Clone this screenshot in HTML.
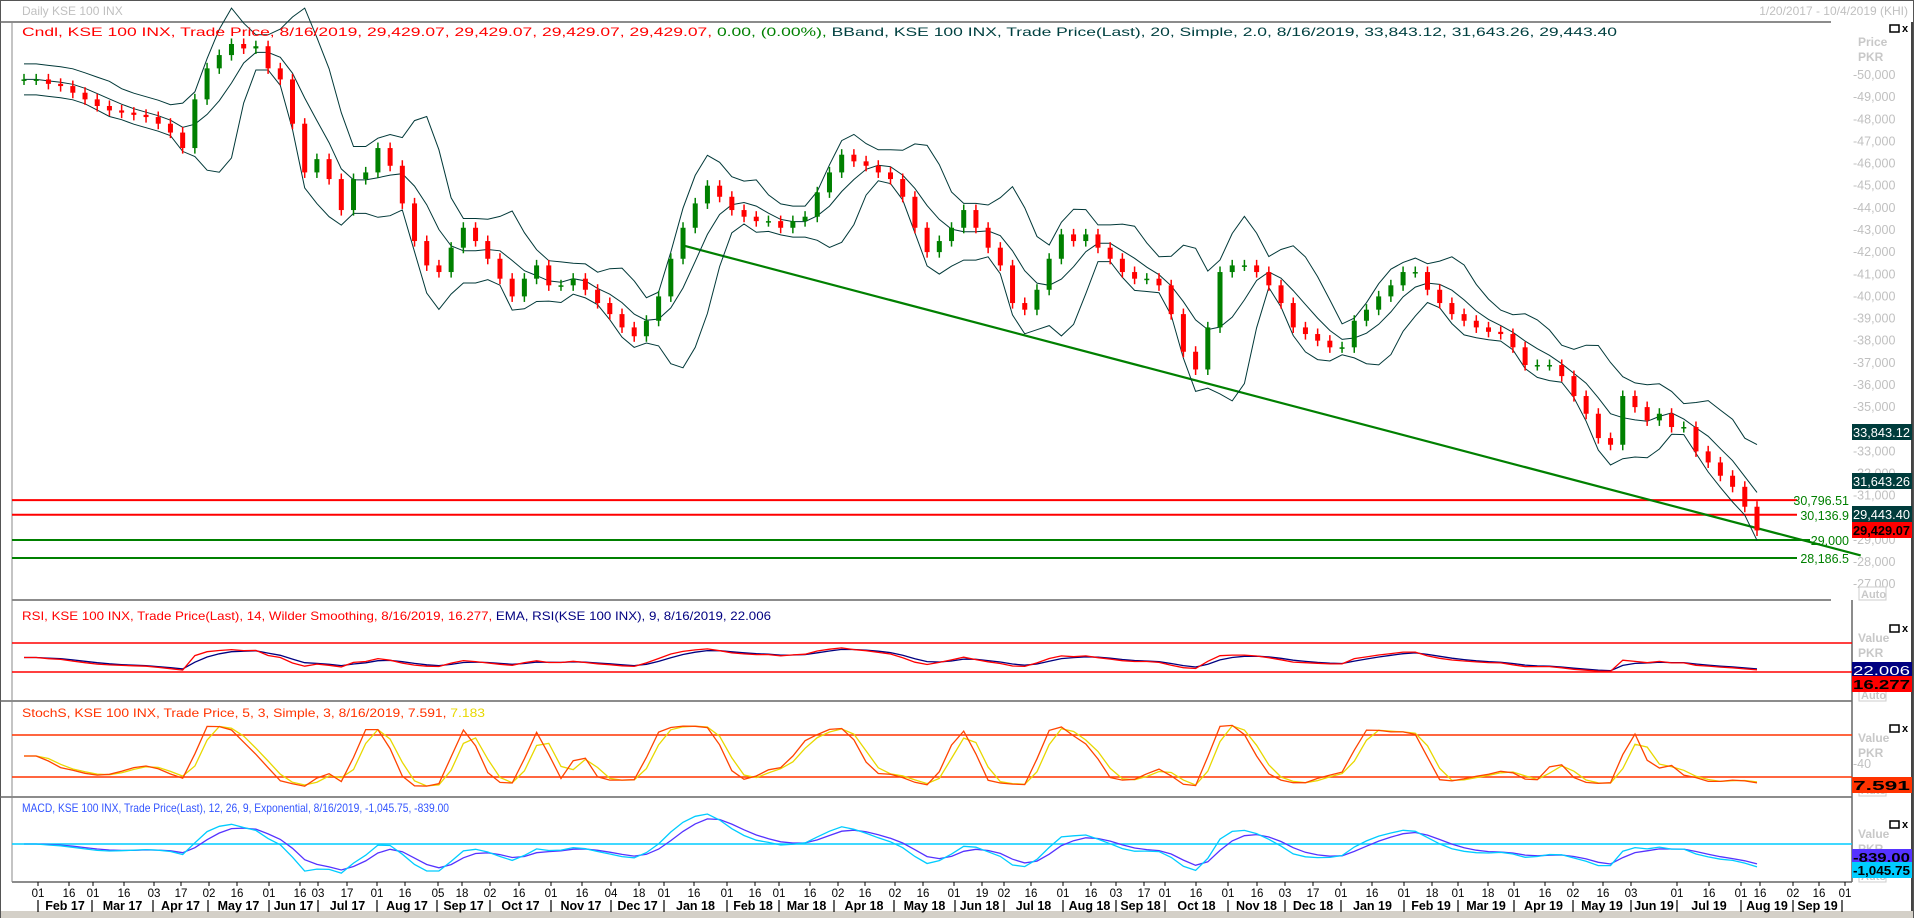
<!DOCTYPE html>
<html><head><meta charset="utf-8"><style>
html,body{margin:0;padding:0;background:#fff;}
svg{display:block;font-family:"Liberation Sans",sans-serif;}
</style></head><body>
<svg id="c" width="1916" height="919" viewBox="0 0 1916 919">
<rect x="0" y="0" width="1916" height="919" fill="#fff"/>
<rect x="0.5" y="0.5" width="1913" height="917" fill="none" stroke="#555"/>
<rect x="1" y="911" width="1912" height="7" fill="#d4d0c8"/>
<text x="22" y="15" font-size="12" fill="#c0c0c0">Daily KSE 100 INX</text>
<text x="1908" y="15" font-size="12" fill="#c0c0c0" text-anchor="end">1/20/2017 - 10/4/2019 (KHI)</text>
<line x1="0" y1="22" x2="1831" y2="22" stroke="#666" stroke-width="1.5"/>
<line x1="12" y1="600" x2="1831" y2="600" stroke="#666" stroke-width="1.5"/>
<line x1="0" y1="701" x2="1852" y2="701" stroke="#666" stroke-width="1.5"/>
<line x1="0" y1="797" x2="1852" y2="797" stroke="#666" stroke-width="1.5"/>
<line x1="12" y1="882" x2="1852" y2="882" stroke="#666" stroke-width="1.5"/>
<line x1="1852" y1="600" x2="1852" y2="882" stroke="#666" stroke-width="1.5"/>
<line x1="12" y1="22" x2="12" y2="882" stroke="#888"/>
<line x1="1912" y1="22" x2="1912" y2="911" stroke="#444" stroke-width="2"/>
<g id="main"></g>
<g id="ind"></g>
<g id="axes"></g>

<text x="22" y="36" font-size="12" textLength="1595" lengthAdjust="spacingAndGlyphs"><tspan fill="#ff0000">Cndl, KSE 100 INX, Trade Price, 8/16/2019, 29,429.07, 29,429.07, 29,429.07, 29,429.07, </tspan><tspan fill="#008000">0.00, (0.00%), </tspan><tspan fill="#004040">BBand, KSE 100 INX, Trade Price(Last), 20, Simple, 2.0, 8/16/2019, 33,843.12, 31,643.26, 29,443.40</tspan></text>
<text x="22" y="620" font-size="12" textLength="749" lengthAdjust="spacingAndGlyphs"><tspan fill="#ff0000">RSI, KSE 100 INX, Trade Price(Last), 14, Wilder Smoothing, 8/16/2019, 16.277, </tspan><tspan fill="#000080">EMA, RSI(KSE 100 INX), 9, 8/16/2019, 22.006</tspan></text>
<text x="22" y="717" font-size="12" textLength="463" lengthAdjust="spacingAndGlyphs"><tspan fill="#ff3300">StochS, KSE 100 INX, Trade Price, 5, 3, Simple, 3, 8/16/2019, 7.591, </tspan><tspan fill="#e8d800">7.183</tspan></text>
<text x="22" y="812" font-size="12" textLength="427" lengthAdjust="spacingAndGlyphs" fill="#3355ff">MACD, KSE 100 INX, Trade Price(Last), 12, 26, 9, Exponential, 8/16/2019, -1,045.75, -839.00</text>
</svg>
<script>
// ---- data (thousands PKR, sampled closes) ----
const closes = [49.8,49.8,49.6,49.5,49.2,48.9,48.6,48.4,48.3,48.2,48.1,47.8,47.4,46.7,48.9,50.3,50.9,51.4,51.2,51.3,50.3,49.8,47.8,45.6,46.2,45.3,43.9,45.3,45.6,46.7,45.9,44.2,42.5,41.4,41.1,42.2,43.1,42.5,41.7,40.8,40.0,40.8,41.4,40.5,40.5,40.8,40.3,39.7,39.2,38.6,38.2,38.9,40.0,41.7,43.1,44.2,45.0,44.5,43.9,43.6,43.4,43.4,43.1,43.4,43.6,44.7,45.6,46.4,46.1,45.9,45.6,45.3,44.5,43.1,42.0,42.5,43.1,43.9,43.1,42.2,41.4,39.7,39.4,40.3,41.7,42.8,42.5,42.8,42.2,41.7,41.1,40.8,40.8,40.5,39.2,37.5,36.7,38.6,41.1,41.4,41.4,41.1,40.5,39.7,38.6,38.3,38.0,37.7,37.7,38.9,39.4,40.0,40.5,41.1,41.1,40.3,39.7,39.2,38.9,38.6,38.4,38.3,37.7,36.9,36.9,36.9,36.4,35.5,34.7,33.6,33.3,35.5,35.0,34.4,34.7,34.1,34.1,33.0,32.5,31.9,31.4,30.5,29.429];
const priceTicks = [50,49,48,47,46,45,44,43,42,41,40,39,38,37,36,35,34,33,32,31,30,29,28,27];
const hLevels = [30.79651,30.1369,29.0,28.1865];
const hLabels = ["30,796.51","30,136.9","29,000","28,186.5"];
const hColors = ["#ff0000","#ff0000","#008000","#008000"];
const trendStart = [54, 42.3];
const trendEnd = [150.5, 28.3];
const dayLabels = ["01","16","01","16","03","17","02","16","01","16","03","17","01","16","05","18","02","16","01","16","04","18","01","16","01","16","01","16","02","16","02","16","01","19","02","16","01","16","03","17","01","16","01","16","03","17","01","16","01","18","01","18","01","16","02","16","03","01","16","01","16","02","16","01"];
const dayX = [38,69,93,124,154,181,209,237,269,300,318,347,377,405,438,462,490,519,551,582,611,639,664,694,727,755,779,810,838,865,895,923,954,982,1004,1031,1063,1091,1116,1144,1165,1196,1228,1257,1285,1313,1341,1372,1404,1432,1458,1488,1514,1545,1573,1603,1631,1677,1709,1741,1760,1793,1819,1845];
const monthLabels = ["Feb 17","Mar 17","Apr 17","May 17","Jun 17","Jul 17","Aug 17","Sep 17","Oct 17","Nov 17","Dec 17","Jan 18","Feb 18","Mar 18","Apr 18","May 18","Jun 18","Jul 18","Aug 18","Sep 18","Oct 18","Nov 18","Dec 18","Jan 19","Feb 19","Mar 19","Apr 19","May 19","Jun 19","Jul 19","Aug 19","Sep 19"];
const monthSep = [38,92,153,208,269,318,377,437,490,551,611,664,727,779,834,894,955,1004,1063,1116,1165,1228,1285,1341,1404,1458,1514,1573,1631,1677,1741,1793,1842];

const NS="http://www.w3.org/2000/svg";
function mk(parent,tag,attrs){const e=document.createElementNS(NS,tag);for(const k in attrs)e.setAttribute(k,attrs[k]);parent.appendChild(e);return e;}
const main=document.getElementById('main'), ind=document.getElementById('ind'), axes=document.getElementById('axes');
const X0=24, DX=(1757-24)/(closes.length-1);
const xs=i=>X0+i*DX;
const yP=v=>75+(50-v)*22.14;
const yRSI=v=>672+(30-v)*0.725;
const yST=v=>777+(20-v)*0.7;
const yMACD=v=>844-v*0.024;

priceTicks.forEach(t=>{
  const tx=mk(axes,'text',{x:1853,y:yP(t)+4,'font-size':12.5,fill:'#c0c0c0'});
  
  
  tx.textContent='-'+t+',000';
});
[['Price',42],['PKR',57]].forEach(([s,y])=>{const t=mk(axes,'text',{x:1858,y:y+4,'font-size':12,'font-weight':'bold',fill:'#c8c8c8'});t.textContent=s;});
[28,601,701,797].forEach(y=>{
  const r=mk(axes,'rect',{x:1890,y:(y===28?25:y+24),width:9,height:7,fill:'none',stroke:'#000','stroke-width':1.5});
  
  
  const c=mk(axes,'text',{x:1902,y:(y===28?32:y+31),'font-size':11,'font-weight':'bold',fill:'#000'});
  
  
  c.textContent='x';
});
[[594],[695],[790],[876]].forEach(([y])=>{const r=mk(axes,'rect',{x:1859,y:y-7,width:27,height:13,fill:'#fff',stroke:'#ccc'});const t=mk(axes,'text',{x:1861,y:y+4,'font-size':11,'font-weight':'bold',fill:'#c8c8c8'});t.textContent='Auto';});
[601,701,797].forEach(y=>{[['Value',y+41],['PKR',y+56]].forEach(([s,yy])=>{const t=mk(axes,'text',{x:1858,y:yy,'font-size':12,'font-weight':'bold',fill:'#c8c8c8'});t.textContent=s;});});

hLevels.forEach((v,i)=>{
  const l=mk(main,'line',{x1:12,x2:(i===2?1810:1797),y1:yP(v),y2:yP(v),stroke:hColors[i],'stroke-width':2});
  
  
  const t=mk(main,'text',{x:1849,y:yP(v)+5,'font-size':12.5,fill:'#008000','text-anchor':'end'});
  
  
  t.textContent=hLabels[i];
});
const tl=mk(main,'line',{x1:xs(trendStart[0]),y1:yP(trendStart[1]),x2:xs(trendEnd[0]),y2:yP(trendEnd[1]),stroke:'#008000','stroke-width':2.2});



const W=5, up=[], mid=[], lo=[];
closes.forEach((c,i)=>{const s=closes.slice(Math.max(0,i-W+1),i+1);const m=s.reduce((a,b)=>a+b,0)/s.length;const sd=Math.sqrt(s.reduce((a,b)=>a+(b-m)*(b-m),0)/s.length);const sd2=Math.max(sd,0.35);mid.push(m);up.push(m+2*sd2);lo.push(m-2*sd2);});
function poly(g,arr,yf,stroke,name,sw){const p=mk(g,'polyline',{points:arr.map((v,i)=>xs(i).toFixed(1)+','+yf(v).toFixed(1)).join(' '),fill:'none',stroke:stroke,'stroke-width':sw||1});return p;}
poly(main,up,yP,'#003838','bband-upper');
poly(main,mid,yP,'#003838','bband-middle');
poly(main,lo,yP,'#003838','bband-lower');

closes.forEach((c,i)=>{
  const o=i?closes[i-1]:c; const up_=c>=o; const col=up_?'#008000':'#ff0000';
  const hi=Math.max(o,c)+0.25, lw=Math.min(o,c)-0.25;
  const w=mk(main,'line',{x1:xs(i),x2:xs(i),y1:yP(hi),y2:yP(lw),stroke:col,'stroke-width':1.5});
  
  
  const b=mk(main,'rect',{x:xs(i)-2.5,y:yP(Math.max(o,c)),width:5,height:Math.max(1.5,Math.abs(yP(o)-yP(c))),fill:col});
  
  
});

function box(y,txt,bg,fg,name){const r=mk(axes,'rect',{x:1852,y:y-8,width:60,height:16,fill:bg});const t=mk(axes,'text',{x:1853,y:y+5,'font-size':13,fill:fg,'font-weight':fg==='#000'?'bold':'normal',textLength:57,lengthAdjust:'spacingAndGlyphs'});t.textContent=txt;}
box(432,'33,843.12','#003c3c','#fff','bband-upper-value');
box(481,'31,643.26','#003c3c','#fff','bband-middle-value');
box(514,'29,443.40','#003c3c','#fff','bband-lower-value');
box(530,'29,429.07','#ff0000','#000','last-price-value');

function ema(a,n){const k=2/(n+1);const r=[];a.forEach((v,i)=>r.push(i?r[i-1]+k*(v-r[i-1]):v));return r;}
const rsi=[];{let ag=0.2,al=0.2;const n=8;closes.forEach((c,i)=>{if(!i){rsi.push(50);return;}const d=c-closes[i-1];ag=(ag*(n-1)+Math.max(d,0))/n;al=(al*(n-1)+Math.max(-d,0))/n;const r=100-100/(1+ag/al);rsi.push(50+(r-50)*0.45);});}
const rsiE=ema(rsi,3);
[70,30].forEach(v=>{const l=mk(ind,'line',{x1:12,x2:1852,y1:yRSI(v),y2:yRSI(v),stroke:'#ff0000','stroke-width':1.5});});
poly(ind,rsiE,yRSI,'#000080','rsi-ema-line',1.3);
poly(ind,rsi,yRSI,'#ff0000','rsi-line',1.3);
box(670,'22.006','#000080','#fff','rsi-ema-value');
box(684,'16.277','#ff0000','#000','rsi-value');

const kRaw=closes.map((c,i)=>{const s=closes.slice(Math.max(0,i-2),i+1);const h=Math.max(...s)+0.25,l=Math.min(...s)-0.25;return 100*(c-l)/(h-l);});
const kS=kRaw.map((v,i)=>i?(v+kRaw[i-1])/2:v);
const dS=kS.map((v,i)=>i?(v+kS[i-1])/2:v);
[80,20].forEach(v=>{const l=mk(ind,'line',{x1:12,x2:1852,y1:yST(v),y2:yST(v),stroke:'#ff3300','stroke-width':1.5});});
poly(ind,dS,yST,'#e8d800','stoch-d-line',1.3);
poly(ind,kS,yST,'#ff4400','stoch-k-line',1.3);
const t40=mk(axes,'text',{x:1853,y:768,'font-size':12.5,fill:'#c0c0c0'});t40.textContent='-40';
box(785,'7.591','#ff3300','#000','stoch-value');

const e1=ema(closes,3),e2=ema(closes,6);const macd=e1.map((v,i)=>(v-e2[i])*1000);const sig=ema(macd,3);
const zl=mk(ind,'line',{x1:12,x2:1852,y1:yMACD(0),y2:yMACD(0),stroke:'#00ccff','stroke-width':1.5});
poly(ind,sig,yMACD,'#5533ff','macd-signal-line',1.3);
poly(ind,macd,yMACD,'#00ccff','macd-line',1.3);
box(857,'-839.00','#5533ff','#000','macd-signal-value');
box(870,'-1,045.75','#00ccff','#000','macd-value');

dayLabels.forEach((d,i)=>{
  const tk=mk(axes,'line',{x1:dayX[i],x2:dayX[i],y1:882,y2:886,stroke:'#000'});
  
  
  const t=mk(axes,'text',{x:dayX[i],y:897,'font-size':11.5,'text-anchor':'middle',fill:'#000'});
  
  
  t.textContent=d;
});
monthSep.forEach(x=>{const l=mk(axes,'line',{x1:x,x2:x,y1:900,y2:912,stroke:'#000','stroke-width':1.2});});
monthLabels.forEach((m,i)=>{
  const t=mk(axes,'text',{x:(monthSep[i]+monthSep[i+1])/2,y:910,'font-size':12.5,'font-weight':'bold','text-anchor':'middle',fill:'#000'});
  
  
  t.textContent=m;
});
</script>
</body></html>
